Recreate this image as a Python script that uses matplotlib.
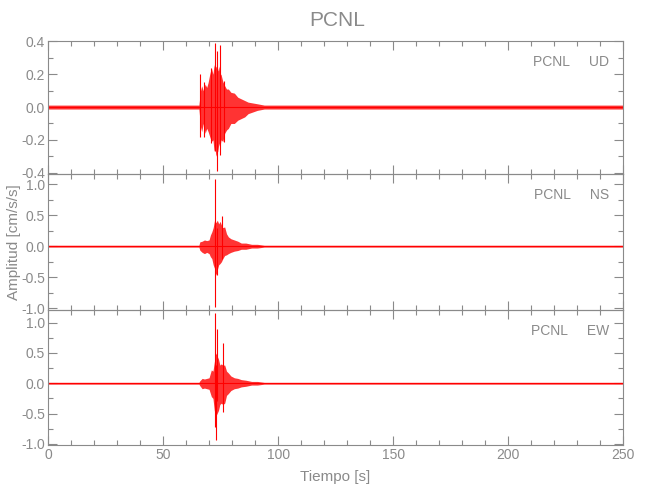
import matplotlib
matplotlib.use("Agg")
import matplotlib.pyplot as plt
from matplotlib.ticker import MultipleLocator, FormatStrFormatter

plt.rcParams['font.family'] = ['Liberation Sans', 'DejaVu Sans']
plt.rcParams['axes.unicode_minus'] = False

station = 'PCNL'
components = ['UD', 'NS', 'EW']

# envelope of each trace (time s, upper, lower)
t_ud = [0, 65.6, 66.3, 66.8, 67.5, 68.3, 69.0, 69.6, 70.3, 71.0, 71.7, 72.2, 72.6, 73.0, 73.4, 73.8,
        74.3, 74.7, 75.2, 76.0, 76.8, 77.6, 78.4, 79.5, 81.0, 82.5, 84.0, 85.5, 87.0, 89.0, 91.0, 94.0, 250]
up_ud = [0.012, 0.012, 0.1, 0.13, 0.1, 0.14, 0.12, 0.15, 0.2, 0.24, 0.2, 0.26, 0.22, 0.25, 0.24, 0.22,
         0.25, 0.2, 0.2, 0.155, 0.13, 0.11, 0.11, 0.09, 0.085, 0.06, 0.05, 0.04, 0.03, 0.025, 0.02, 0.012, 0.012]
lo_ud = [-0.012, -0.012, -0.12, -0.15, -0.1, -0.16, -0.13, -0.15, -0.18, -0.21, -0.2, -0.27, -0.25, -0.3, -0.28, -0.27,
         -0.22, -0.25, -0.2, -0.21, -0.16, -0.14, -0.13, -0.1, -0.1, -0.08, -0.07, -0.06, -0.04, -0.03, -0.02, -0.012, -0.012]

t_ns = [0, 65.6, 66.0, 67.0, 68.0, 69.0, 70.0, 70.6, 71.2, 71.8, 72.4, 73.0, 73.6, 74.2, 74.8,
        75.4, 76.0, 76.8, 77.6, 78.4, 79.5, 81.0, 82.5, 84.0, 86.0, 88.5, 91.0, 94.0, 250]
up_ns = [0.015, 0.015, 0.07, 0.08, 0.1, 0.09, 0.1, 0.18, 0.23, 0.3, 0.42, 0.38, 0.42, 0.36, 0.4,
         0.34, 0.3, 0.31, 0.2, 0.15, 0.12, 0.1, 0.08, 0.05, 0.05, 0.03, 0.03, 0.015, 0.015]
lo_ns = [-0.015, -0.015, -0.065, -0.1, -0.12, -0.1, -0.12, -0.17, -0.2, -0.3, -0.36, -0.47, -0.38, -0.3, -0.28,
         -0.25, -0.2, -0.15, -0.14, -0.12, -0.1, -0.08, -0.07, -0.05, -0.05, -0.03, -0.03, -0.015, -0.015]

t_ew = [0, 65.6, 66.0, 67.0, 68.0, 69.0, 70.0, 71.0, 71.7, 72.3, 72.9, 73.5, 74.1, 74.7,
        75.3, 76.0, 76.8, 77.6, 78.4, 79.5, 81.0, 82.5, 84.0, 86.0, 88.5, 91.0, 94.0, 250]
up_ew = [0.015, 0.015, 0.04, 0.08, 0.07, 0.08, 0.09, 0.22, 0.2, 0.35, 0.5, 0.45, 0.4, 0.3,
         0.32, 0.3, 0.3, 0.2, 0.17, 0.12, 0.09, 0.08, 0.06, 0.05, 0.03, 0.03, 0.015, 0.015]
lo_ew = [-0.015, -0.015, -0.04, -0.09, -0.08, -0.09, -0.1, -0.22, -0.25, -0.45, -0.55, -0.5, -0.45, -0.35,
         -0.33, -0.35, -0.33, -0.2, -0.17, -0.12, -0.09, -0.08, -0.06, -0.05, -0.03, -0.03, -0.015, -0.015]

# largest single peaks (time, min, max)
spk_ud = [(66.0, -0.18, 0.2), (67.6, -0.18, 0.15), (70.8, -0.22, 0.24), (72.6, -0.27, 0.39),
          (73.4, -0.39, 0.34), (74.7, -0.29, 0.38), (76.3, -0.21, 0.16)]
spk_ns = [(72.8, -0.98, 1.09), (73.5, -0.47, 0.3), (75.5, -0.2, 0.48)]
spk_ew = [(72.8, -0.72, 1.16), (73.2, -0.94, 0.3), (73.6, -0.3, 0.9), (76.1, -0.47, 0.66)]

traces = [(t_ud, up_ud, lo_ud, spk_ud), (t_ns, up_ns, lo_ns, spk_ns), (t_ew, up_ew, lo_ew, spk_ew)]
ylims = [(-0.41, 0.403), (-1.03, 1.16), (-1.02, 1.21)]
ymajor = [0.2, 0.5, 0.5]
yminor = [0.1, 0.25, 0.25]

gray = '#8a8a8a'
red = '#ff0000'

fig = plt.figure(figsize=(6.5, 5), dpi=100)
boxes = [(0.0738, 0.6514, 0.885, 0.2666), (0.0738, 0.38, 0.885, 0.2714), (0.0738, 0.11, 0.885, 0.27)]

axes = []
for i, (t, up, lo, spikes) in enumerate(traces):
    ax = fig.add_axes(boxes[i])
    ax.fill_between(t, lo, up, color=red, lw=0, alpha=0.8)
    ax.axhline(0, color=red, lw=0.8)
    for (ts, smin, smax) in spikes:
        ax.vlines(ts, smin, smax, color=red, lw=0.8)
    ax.set_xlim(0, 250)
    ax.set_ylim(*ylims[i])
    ax.xaxis.set_major_locator(MultipleLocator(50))
    ax.xaxis.set_minor_locator(MultipleLocator(10))
    ax.yaxis.set_major_locator(MultipleLocator(ymajor[i]))
    ax.yaxis.set_minor_locator(MultipleLocator(yminor[i]))
    ax.yaxis.set_major_formatter(FormatStrFormatter('%.1f'))
    ax.tick_params(which='both', direction='in', top=True, right=True, color=gray,
                   labelcolor=gray, labelsize=10, width=0.8, pad=2)
    ax.tick_params(which='major', length=6.5)
    ax.tick_params(which='minor', length=3.5)
    for s in ax.spines.values():
        s.set_color(gray)
        s.set_linewidth(0.8)
    if i < 2:
        ax.tick_params(labelbottom=False)
    ax.text(0.975, 1 - 21 / (boxes[i][3] * 500), station + '     ' + components[i],
            transform=ax.transAxes, ha='right', va='center', color=gray, fontsize=10)
    ax.patch.set_alpha(0)
    axes.append(ax)

axes[2].set_xlabel('Tiempo [s]', color=gray, fontsize=11, labelpad=6)
fig.text(0.022, 0.515, 'Amplitud [cm/s/s]', rotation=90, ha='center', va='center', color=gray, fontsize=11)
fig.text(0.518, 0.96, station, ha='center', va='center', color=gray, fontsize=15)

fig.savefig('out.png', dpi=100)
